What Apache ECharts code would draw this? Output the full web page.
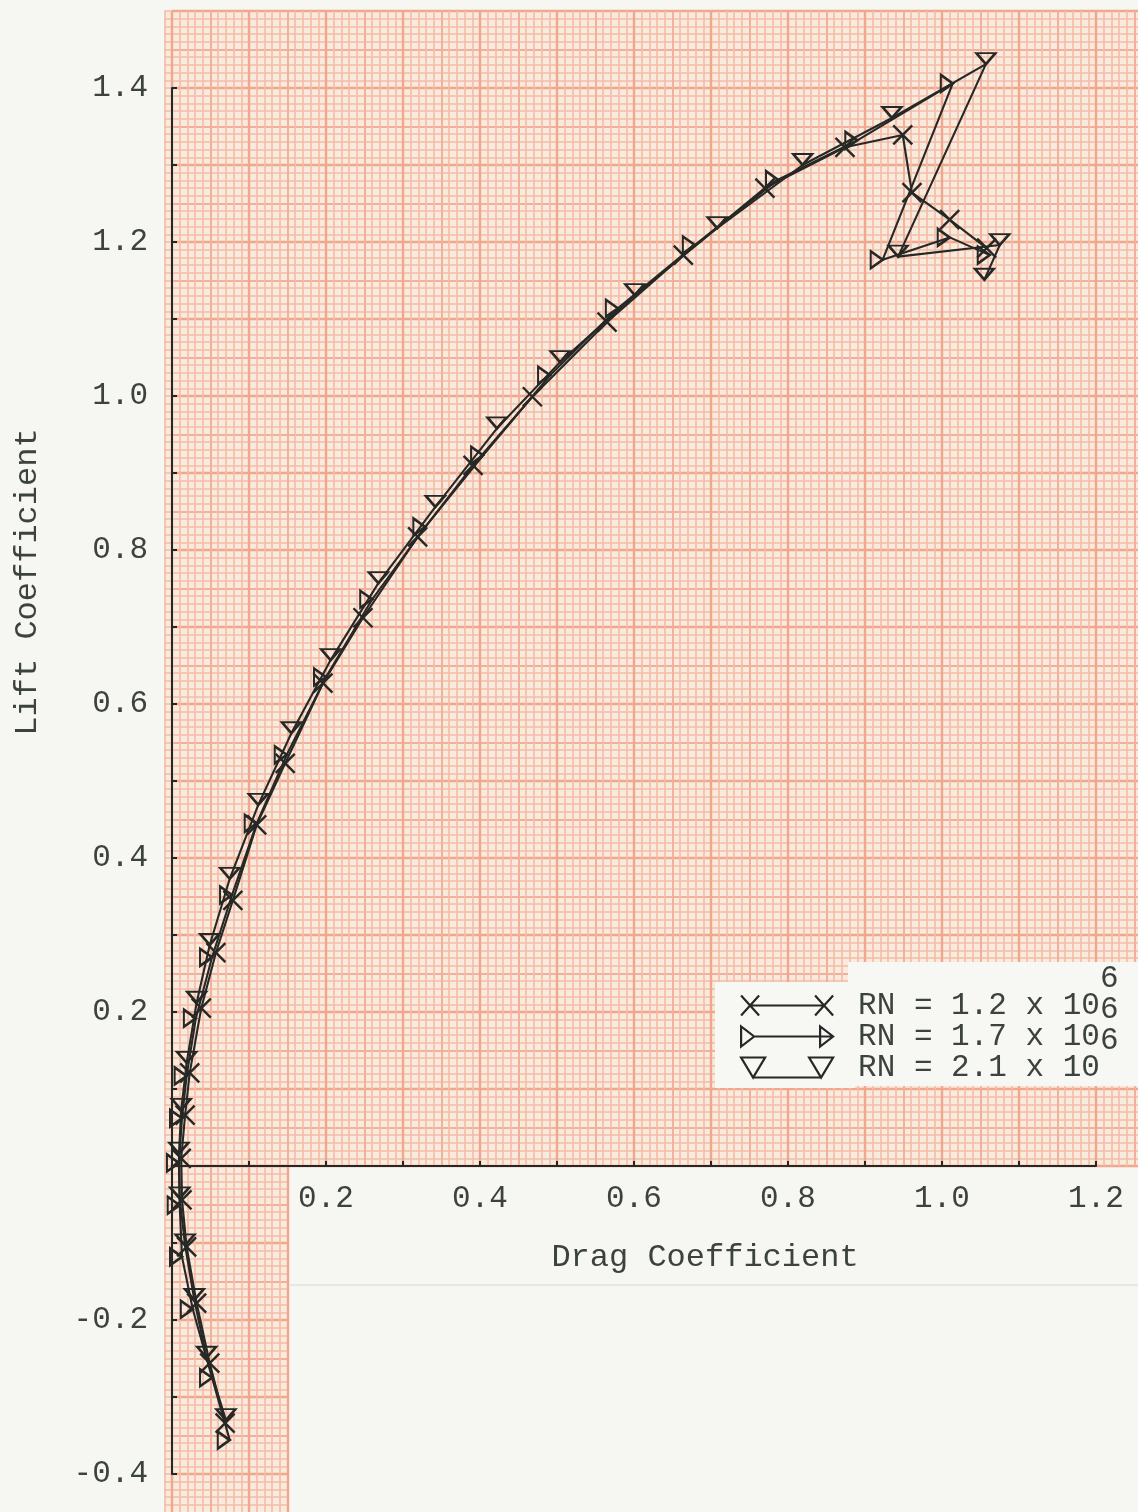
<!DOCTYPE html>
<html>
<head>
<meta charset="utf-8">
<title>Lift vs Drag Coefficient</title>
<script src="https://cdn.jsdelivr.net/npm/echarts@6/dist/echarts.min.js"></script>
<style>
  html, body { margin: 0; padding: 0; background: #f6f6f3; }
  #chart { width: 1138px; height: 1512px; }
</style>
</head>
<body>
<div id="chart"></div>
<script>
// Drag polars measured at three Reynolds numbers (angle-of-attack order).
const reynolds = ['1.2', '1.7', '2.1'];

const cdRN12 = [0.069, 0.049, 0.032, 0.019, 0.013, 0.012, 0.017, 0.023, 0.038, 0.057, 0.079, 0.110, 0.147,
                0.196, 0.248, 0.319, 0.391, 0.468, 0.565, 0.664, 0.770, 0.874, 0.949, 0.961, 1.010, 1.058];
const clRN12 = [-0.334, -0.256, -0.178, -0.105, -0.044, 0.010, 0.066, 0.121, 0.205, 0.277, 0.345, 0.443, 0.523,
                0.627, 0.712, 0.817, 0.910, 0.999, 1.096, 1.183, 1.270, 1.323, 1.339, 1.264, 1.229, 1.192];

const cdRN17 = [0.075, 0.052, 0.027, 0.013, 0.010, 0.009, 0.013, 0.019, 0.031, 0.052, 0.078, 0.110, 0.149,
                0.200, 0.260, 0.329, 0.404, 0.491, 0.579, 0.679, 0.787, 0.890, 1.014, 0.923, 1.010, 1.062];
const clRN17 = [-0.356, -0.275, -0.186, -0.118, -0.051, 0.004, 0.062, 0.117, 0.192, 0.271, 0.352, 0.445, 0.534,
                0.635, 0.736, 0.830, 0.923, 1.027, 1.114, 1.196, 1.281, 1.332, 1.406, 1.177, 1.206, 1.183];

const cdRN21 = [0.070, 0.045, 0.029, 0.017, 0.010, 0.009, 0.012, 0.019, 0.032, 0.049, 0.075, 0.112, 0.155,
                0.206, 0.268, 0.342, 0.422, 0.504, 0.601, 0.708, 0.819, 0.935, 1.057, 0.943, 1.075, 1.055];
const clRN21 = [-0.330, -0.249, -0.174, -0.103, -0.042, 0.016, 0.073, 0.134, 0.212, 0.287, 0.373, 0.469, 0.562,
                0.657, 0.757, 0.856, 0.958, 1.044, 1.131, 1.218, 1.300, 1.361, 1.431, 1.181, 1.196, 1.151];

// Tick values that carry a printed label
const xLabelValues = [0.2, 0.4, 0.6, 0.8, 1.0, 1.2];
const yLabelValues = [-0.4, -0.2, 0.2, 0.4, 0.6, 0.8, 1.0, 1.2, 1.4];

// ---- layout helpers: one data unit = 770 px, origin at (172, 1166) ----
const PX = 770, X0 = 172, Y0 = 1166;
function box(x0, x1, y0, y1) {
  return {
    left: X0 + x0 * PX, top: Y0 - y1 * PX, width: (x1 - x0) * PX, height: (y1 - y0) * PX,
    outerBoundsMode: 'none', containLabel: false
  };
}

const TEXT = '#3c423d';
const INK = '#262825';
const MONO = '"Liberation Mono", "DejaVu Sans Mono", monospace';

// ---- graph paper: fine (0.01), medium (0.05) and heavy (0.1) rulings ----
const CELL = '#f8eadd', FINE = '#f4bca8', MID = '#f2b09a', MAJOR = '#f0a78d';
const grids = [], xAxes = [], yAxes = [];
function hiddenAxis(gi, range, step, splitLine) {
  return {
    type: 'value', gridIndex: gi, min: range[0], max: range[1], interval: step,
    silent: true, z: 0,
    axisLine: { show: false }, axisTick: { show: false }, axisLabel: { show: false },
    splitLine: splitLine || { show: false }
  };
}
function addPaperLayer(xr, yr, step, color, width, fill) {
  const gi = grids.length;
  grids.push(Object.assign(box(xr[0], xr[1], yr[0], yr[1]),
    { show: !!fill, backgroundColor: fill || 'transparent', borderWidth: 0 }));
  const rule = { show: true, lineStyle: { color: color, width: width } };
  xAxes.push(hiddenAxis(gi, xr, step, rule));
  yAxes.push(hiddenAxis(gi, yr, step, rule));
}
// sheet above the drag axis
addPaperLayer([-0.01, 1.27], [0, 1.5], 0.01, FINE, 1.6, CELL);
addPaperLayer([0, 1.3], [0, 1.5], 0.05, MID, 1.9, null);
addPaperLayer([0, 1.3], [0, 1.5], 0.1, MAJOR, 2.4, null);
// narrow strip below the drag axis
addPaperLayer([-0.01, 0.15], [-0.46, 0], 0.01, FINE, 1.6, CELL);
addPaperLayer([0, 0.15], [-0.5, 0], 0.05, MID, 1.9, null);
addPaperLayer([0, 0.15], [-0.5, 0], 0.1, MAJOR, 2.4, null);

function labelFrom(list) {
  return (v) => list.some(t => Math.abs(t - v) < 1e-6) ? v.toFixed(1) : '';
}

// ---- drag axis, drawn along CL = 0 ----
const AG = grids.length;
grids.push(Object.assign(box(0, 1.2, 0, 1.4), { show: false }));
xAxes.push({
  type: 'value', gridIndex: AG, min: 0, max: 1.2, interval: 0.1, z: 3,
  name: 'Drag Coefficient', nameLocation: 'middle', nameGap: 76,
  nameTextStyle: { fontFamily: MONO, fontSize: 32, color: TEXT, padding: [0, 0, 0, 142] },
  axisLine: { show: true, onZero: false, lineStyle: { color: INK, width: 2 } },
  axisTick: { show: true, inside: true, length: 5, lineStyle: { color: INK, width: 2 } },
  axisLabel: { show: true, margin: 17, fontFamily: MONO, fontSize: 31, color: TEXT, formatter: labelFrom(xLabelValues) },
  splitLine: { show: false }
});
yAxes.push(Object.assign(hiddenAxis(AG, [0, 1.4], 0.1), { show: false }));

// ---- data grid with the lift axis ----
const DG = grids.length;
grids.push(Object.assign(box(0, 1.2, -0.4, 1.4), { show: false }));
xAxes.push(Object.assign(hiddenAxis(DG, [0, 1.2], 0.1), { show: false }));
yAxes.push({
  type: 'value', gridIndex: DG, min: -0.4, max: 1.4, interval: 0.1, z: 3,
  name: 'Lift Coefficient', nameLocation: 'middle', nameGap: 128, nameRotate: 90,
  nameTextStyle: { fontFamily: MONO, fontSize: 32, color: TEXT, padding: [0, 0, 0, 398] },
  axisLine: { show: true, onZero: false, lineStyle: { color: INK, width: 2 } },
  axisTick: { show: true, inside: true, length: 5, lineStyle: { color: INK, width: 2 } },
  axisLabel: { show: true, margin: 24, fontFamily: MONO, fontSize: 31, color: TEXT, formatter: labelFrom(yLabelValues) },
  splitLine: { show: false }
});

// ---- series ----
const curves = [
  { rn: reynolds[0], cd: cdRN12, cl: clRN12,
    symbol: 'path://M0,0L20,20M0,20L20,0', size: 19, offset: [0, 0],
    icon: 'path://M0,0L18,20M0,20L18,0M9,10L83,10M74,0L92,20M74,20L92,0' },
  { rn: reynolds[1], cd: cdRN17, cl: clRN17,
    symbol: 'path://M0,0L0,16L12,8Z', size: [12, 17], offset: [-6, 0],
    icon: 'path://M0,0L0,20L13,10ZM13,10L92,10M79,0L79,20L92,10Z' },
  { rn: reynolds[2], cd: cdRN21, cl: clRN21,
    symbol: 'path://M0,0L18,0L9,11Z', size: [19, 11], offset: [0, -5.5],
    icon: 'path://M0,0L24,0L12,20ZM12,20L80,20M68,0L92,0L80,20Z' }
];

const series = curves.map(c => ({
  type: 'line',
  name: 'RN = ' + c.rn + ' x 10^6',
  xAxisIndex: DG, yAxisIndex: DG,
  data: c.cd.map((x, i) => [x, c.cl[i]]),
  clip: false,
  smooth: false,
  showAllSymbol: true,
  symbol: c.symbol,
  symbolSize: c.size,
  symbolOffset: c.offset,
  lineStyle: { color: INK, width: 2.1 },
  itemStyle: { color: 'rgba(0,0,0,0)', borderColor: INK, borderWidth: 2.4 },
  emphasis: { disabled: true },
  z: 2
}));

const chart = echarts.init(document.getElementById('chart'), null, { renderer: 'canvas' });
chart.setOption({
  animation: false,
  backgroundColor: '#f6f6f3',
  grid: grids,
  xAxis: xAxes,
  yAxis: yAxes,
  series: series,
  legend: {
    left: 740, top: 963,
    orient: 'vertical',
    padding: 0,
    itemGap: -27,
    itemWidth: 92, itemHeight: 20,
    selectedMode: false,
    z: 6,
    data: series.map((s, i) => ({
      name: s.name,
      icon: curves[i].icon,
      itemStyle: { color: 'rgba(0,0,0,0)', borderColor: INK, borderWidth: 2.2 }
    })),
    formatter: (name) => {
      const parts = name.split('^');
      return '{b|' + parts[0] + '}{s|' + parts[1] + '}';
    },
    textStyle: {
      padding: [0, 0, 0, 20],
      rich: {
        b: { fontFamily: MONO, fontSize: 31, color: TEXT, verticalAlign: 'middle' },
        s: { fontFamily: MONO, fontSize: 31, color: TEXT, verticalAlign: 'middle', padding: [0, 0, 54, 0] }
      }
    }
  },
  graphic: [
    { type: 'rect', z: 5, silent: true, shape: { x: 848, y: 962, width: 290, height: 124 }, style: { fill: '#f7f7f4' } },
    { type: 'rect', z: 5, silent: true, shape: { x: 715, y: 982, width: 140, height: 106 }, style: { fill: '#f7f7f4' } },
    { type: 'line', z: 5, silent: true, shape: { x1: 290, y1: 1285, x2: 1138, y2: 1285 }, style: { stroke: '#e2e2de', lineWidth: 1.5 } }
  ]
});
</script>
</body>
</html>
